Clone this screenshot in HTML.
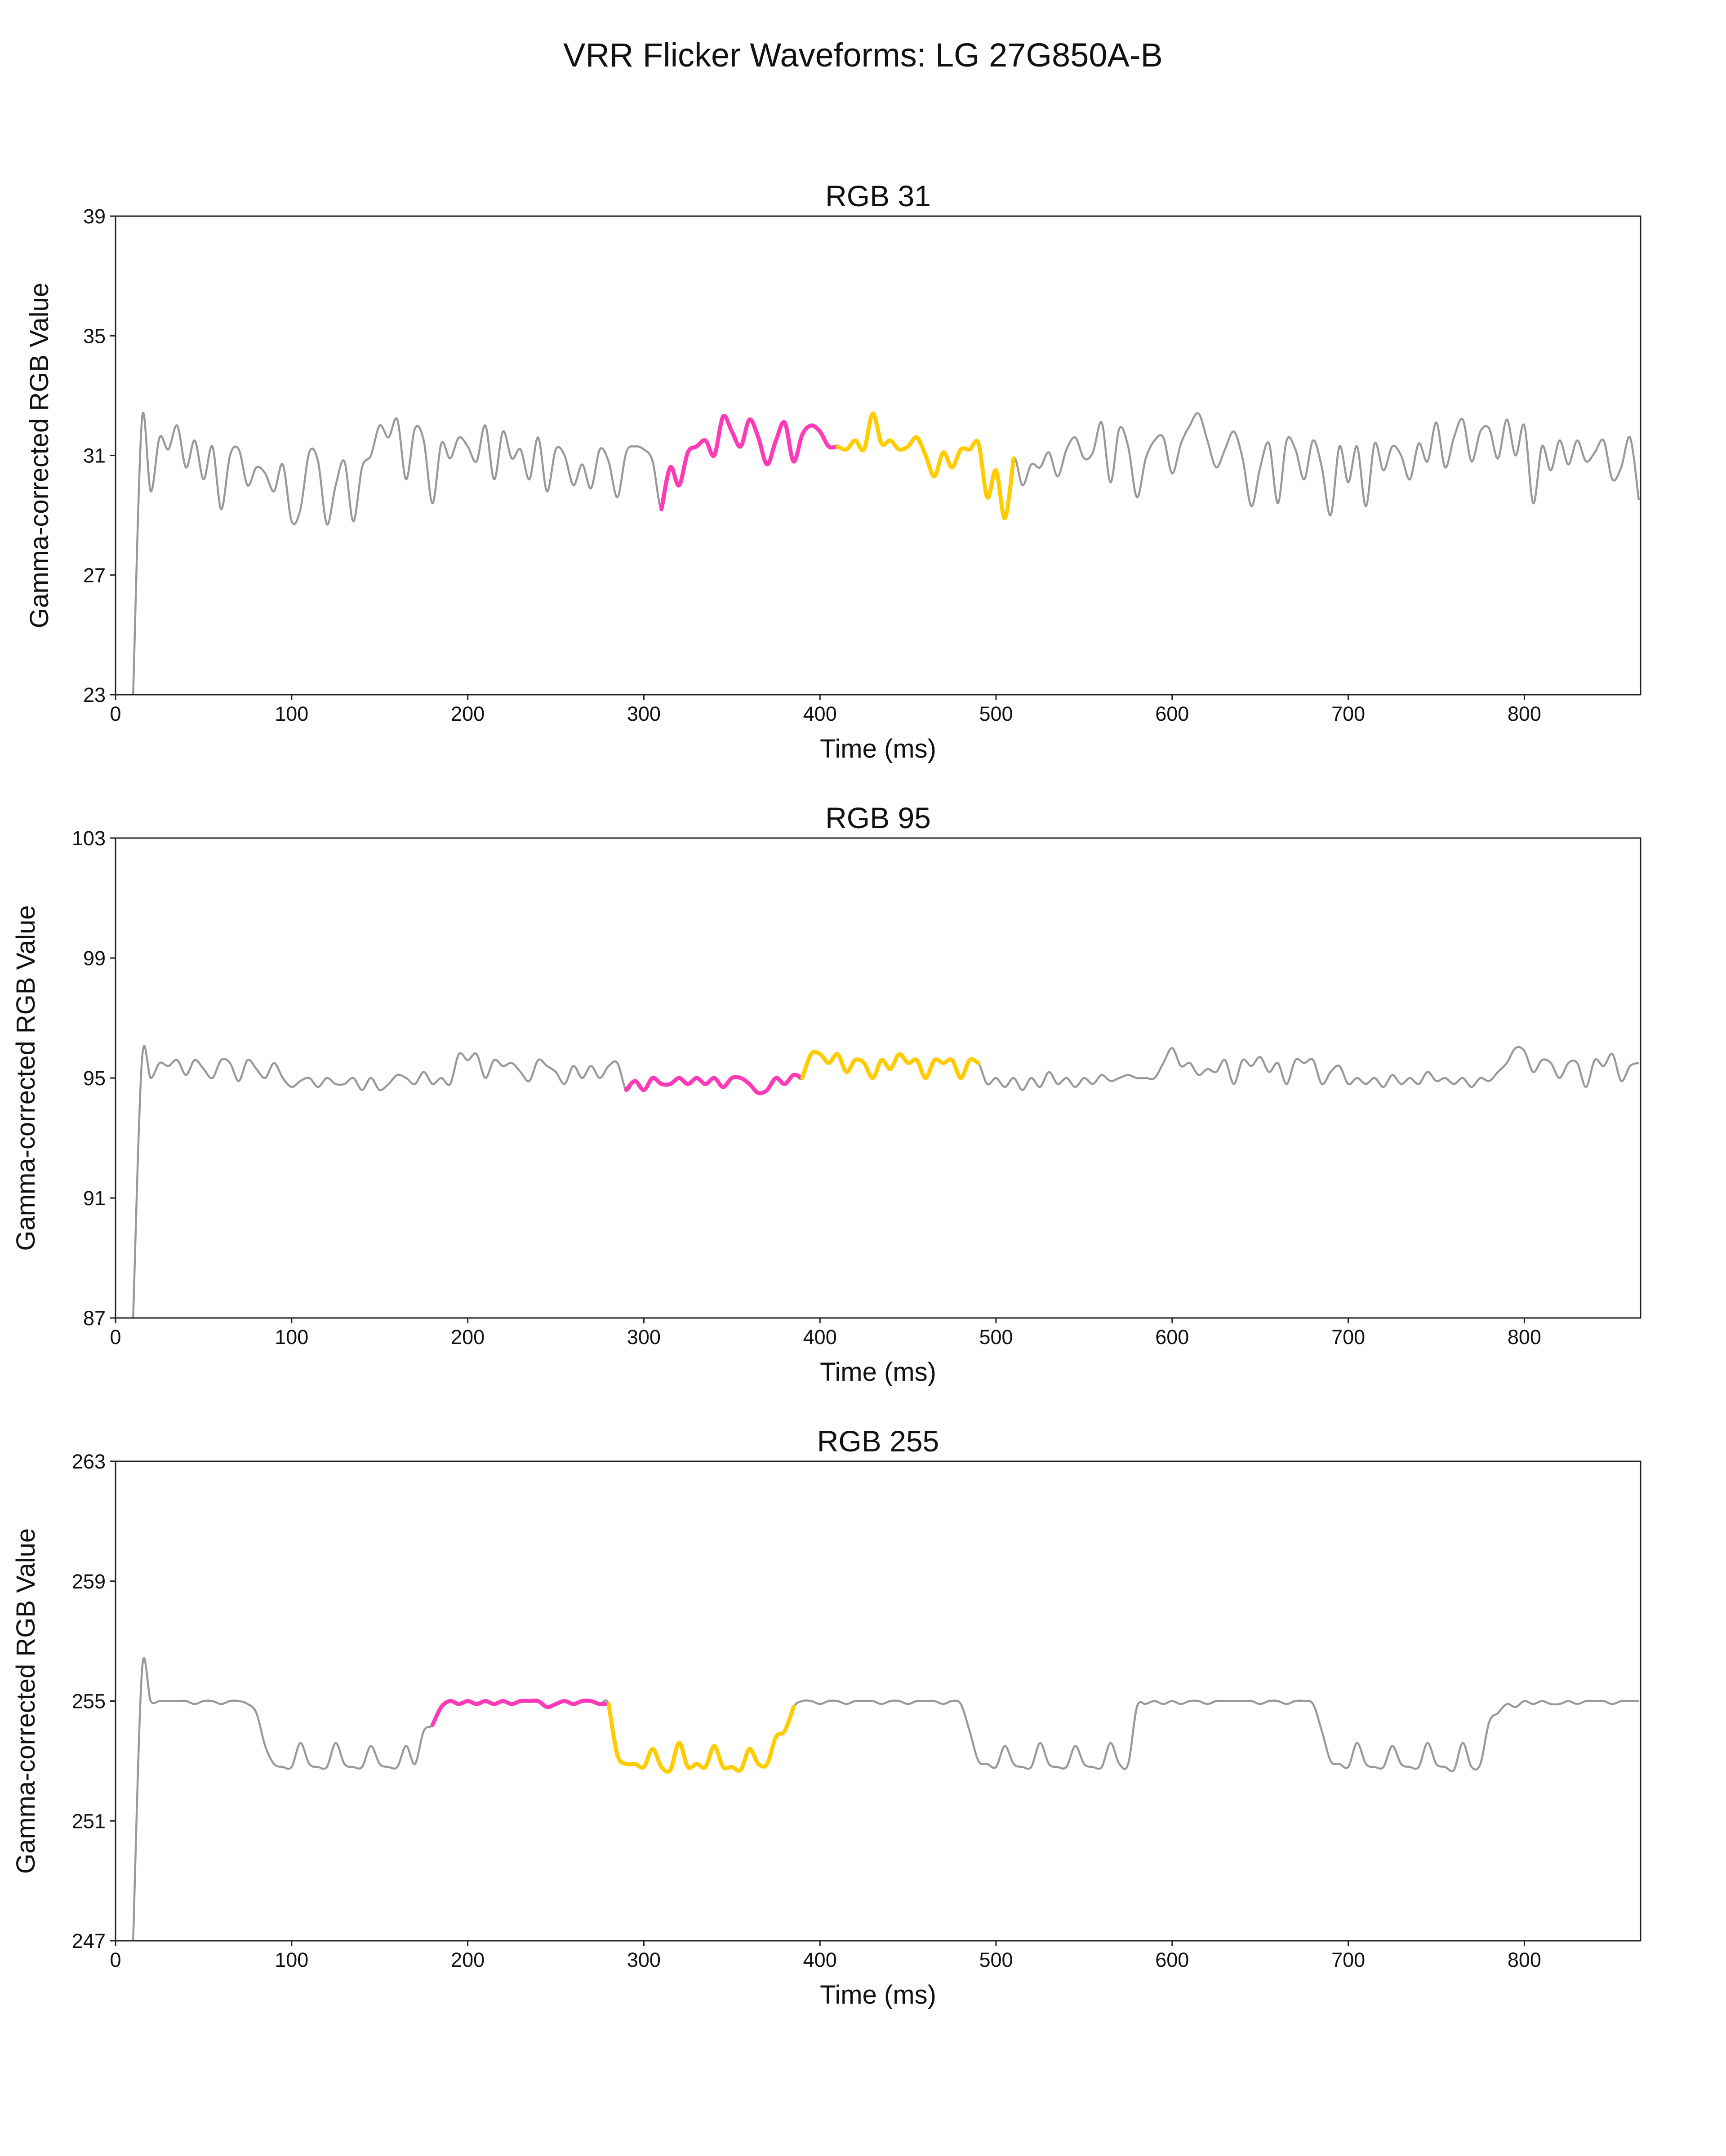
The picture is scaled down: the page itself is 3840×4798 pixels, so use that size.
<!DOCTYPE html>
<html><head><meta charset="utf-8"><style>
html,body{margin:0;padding:0;background:#fff;}
svg{display:block;font-family:"Liberation Sans","DejaVu Sans",sans-serif;}
</style></head><body>
<svg id="chart" width="3840" height="4798" viewBox="0 0 3840 4798" xmlns="http://www.w3.org/2000/svg">
<rect width="3840" height="4798" fill="#fff"/>
<text x="1920" y="148" font-size="74" text-anchor="middle" fill="#111">VRR Flicker Waveforms: LG 27G850A-B</text>
</svg>
<script>
const xTicks = [0,100,200,300,400,500,600,700,800];
const t0 = 10, tStep = 5;
const p1Values = [23,32.2,29.8,31.6,31.2,32.0,30.6,31.5,30.2,31.3,29.2,31.0,31.2,30.0,30.6,30.4,29.8,30.7,28.8,29.2,31.1,30.8,28.7,30.0,30.8,28.8,30.6,31.0,32.0,31.6,32.2,30.2,31.9,31.5,29.4,31.4,30.9,31.6,31.3,30.8,32.0,30.2,31.8,30.9,31.2,30.2,31.6,29.8,31.2,31.0,30.0,30.7,29.9,31.2,30.8,29.6,31.1,31.3,31.2,30.8,29.2,30.6,30.0,31.1,31.3,31.5,31.0,32.3,31.8,31.3,32.2,31.6,30.7,31.5,32.1,30.8,31.7,32.0,31.8,31.3,31.3,31.2,31.5,31.2,32.4,31.4,31.5,31.2,31.3,31.6,31.0,30.3,31.1,30.6,31.2,31.2,31.4,29.6,30.5,28.9,30.9,30.0,30.7,30.6,31.1,30.3,31.2,31.6,30.9,31.1,32.1,30.1,31.9,31.3,29.6,30.9,31.5,31.6,30.4,31.4,32.0,32.4,31.5,30.6,31.2,31.8,30.9,29.3,30.6,31.4,29.4,31.5,31.2,30.2,31.5,30.6,29.0,31.3,30.1,31.3,29.3,31.4,30.5,31.3,31.0,30.2,31.4,30.8,32.1,30.6,31.6,32.2,30.8,31.8,31.9,30.9,32.2,31.0,32.0,29.4,31.3,30.5,31.5,30.7,31.5,30.8,31.1,31.5,30.2,30.6,31.6,29.5];
const p2Values = [87,95.6,95.0,95.5,95.4,95.6,95.1,95.6,95.3,95.0,95.6,95.5,94.9,95.6,95.3,95.0,95.5,95.0,94.7,94.9,95.0,94.7,95.0,94.8,94.8,95.0,94.6,95.0,94.6,94.8,95.1,95.0,94.8,95.2,94.8,95.0,94.8,95.8,95.6,95.8,95.0,95.6,95.4,95.5,95.2,94.9,95.6,95.4,95.2,94.8,95.4,95.0,95.4,95.0,95.4,95.5,94.6,94.9,94.6,95.0,94.8,94.8,95.0,94.8,95.0,94.8,95.0,94.7,95.0,95.0,94.8,94.5,94.6,95.0,94.8,95.1,95.0,95.8,95.8,95.5,95.8,95.2,95.6,95.5,95.0,95.6,95.3,95.8,95.5,95.6,95.0,95.6,95.5,95.6,95.0,95.6,95.5,94.8,95.0,94.7,95.0,94.6,95.0,94.7,95.2,94.8,95.0,94.7,95.0,94.8,95.1,94.9,95.0,95.1,95.0,95.0,95.0,95.5,96.0,95.4,95.5,95.1,95.3,95.2,95.6,94.8,95.6,95.4,95.7,95.2,95.5,94.8,95.6,95.5,95.6,94.8,95.2,95.4,94.8,95.0,94.8,95.0,94.7,95.1,94.8,95.0,94.8,95.2,94.9,95.0,94.8,95.0,94.7,95.0,94.9,95.2,95.5,96.0,95.9,95.2,95.6,95.5,95.0,95.5,95.5,94.7,95.6,95.4,95.8,94.9,95.4,95.5];
const p3Values = [247,256.0,255.0,255.0,255.0,255.0,255.0,254.9,255.0,255.0,254.9,255.0,255.0,254.9,254.6,253.5,252.9,252.8,252.8,253.6,252.9,252.8,252.8,253.6,252.9,252.8,252.8,253.5,252.9,252.8,252.8,253.5,252.9,254.0,254.2,254.8,255.0,254.9,255.0,254.9,255.0,254.9,255.0,254.9,255.0,255.0,255.0,254.8,254.9,255.0,254.9,255.0,255.0,254.9,254.9,253.2,252.9,252.9,252.8,253.4,252.8,252.7,253.6,252.8,252.9,252.8,253.5,252.8,252.8,252.7,253.4,252.9,252.9,253.8,254.0,254.8,255.0,255.0,254.9,255.0,255.0,254.9,255.0,255.0,255.0,254.9,255.0,255.0,254.9,255.0,255.0,255.0,254.9,255.0,254.9,254.0,253.0,252.9,252.8,253.5,252.9,252.8,252.8,253.6,252.9,252.8,252.8,253.5,252.9,252.8,252.8,253.6,252.9,252.9,254.8,254.9,255.0,254.9,255.0,254.9,255.0,255.0,254.9,255.0,255.0,255.0,255.0,255.0,254.9,255.0,255.0,254.9,255.0,255.0,254.9,254.0,253.0,252.9,252.8,253.6,252.9,252.8,252.8,253.5,252.9,252.8,252.8,253.6,252.9,252.8,252.7,253.6,252.8,252.9,254.3,254.6,254.9,254.8,255.0,254.9,255.0,254.9,254.9,255.0,254.9,255.0,255.0,255.0,254.9,255.0,255.0,255.0];
const p1Ticks = [23,27,31,35,39];
const p2Ticks = [87,91,95,99,103];
const p3Ticks = [247,251,255,259,263];
const p1Ranges = [[312,410],[410,508]];
const p2Ranges = [[292,390],[390,492]];
const p3Ranges = [[182,282],[282,383]];

const svg = document.getElementById('chart');
const NS = 'http://www.w3.org/2000/svg';
const L = 257, R = 3650, XMAX = 866;
function mk(tag, attrs){const e=document.createElementNS(NS,tag);for(const k in attrs)e.setAttribute(k,attrs[k]);svg.appendChild(e);return e;}
function smooth(p){
  if(p.length<2) return '';
  let d='M'+p[0][0].toFixed(1)+','+p[0][1].toFixed(1);
  for(let i=0;i<p.length-1;i++){
    const a=p[i-1]||p[i], b=p[i], c=p[i+1], e=p[i+2]||c;
    const c1x=b[0]+(c[0]-a[0])/6, c1y=b[1]+(c[1]-a[1])/6;
    const c2x=c[0]-(e[0]-b[0])/6, c2y=c[1]-(e[1]-b[1])/6;
    d+=' C'+c1x.toFixed(1)+','+c1y.toFixed(1)+' '+c2x.toFixed(1)+','+c2y.toFixed(1)+' '+c[0].toFixed(1)+','+c[1].toFixed(1);
  }
  return d;
}

function panel(id, title, top, bottom, ticks, vals, ranges, labelX){
  const ymin=ticks[0], ymax=ticks[ticks.length-1];
  const xs=t=>L+(t/XMAX)*(R-L);
  const ys=v=>bottom-(v-ymin)/(ymax-ymin)*(bottom-top);
  const times=vals.map((v,i)=>t0+i*tStep);
  const t=mk('text',{x:(L+R)/2,y:top-22,'font-size':66,'text-anchor':'middle',fill:'#111'});
  t.textContent=title;
  
  
  xTicks.forEach(v=>{
    const tk=mk('line',{x1:xs(v),x2:xs(v),y1:bottom,y2:bottom+12,stroke:'#222','stroke-width':3});
    
    
    const tl=mk('text',{x:xs(v),y:bottom+58,'font-size':45,'text-anchor':'middle',fill:'#111'});
    tl.textContent=v;
    
    
  });
  ticks.forEach(v=>{
    const tk=mk('line',{x1:L-12,x2:L,y1:ys(v),y2:ys(v),stroke:'#222','stroke-width':3});
    
    
    const tl=mk('text',{x:L-22,y:ys(v)+16,'font-size':45,'text-anchor':'end',fill:'#111'});
    tl.textContent=v;
    
    
  });
  const xl=mk('text',{x:(L+R)/2,y:bottom+140,'font-size':58,'text-anchor':'middle',fill:'#111'});
  xl.textContent='Time (ms)';
  
  
  const cy=(top+bottom)/2;
  const yl=mk('text',{x:labelX,y:cy,'font-size':58,'text-anchor':'middle',fill:'#111',transform:`rotate(-90 ${labelX} ${cy})`});
  yl.textContent='Gamma-corrected RGB Value';
  
  
  const clipId=id+'-clip';
  const cp=mk('clipPath',{id:clipId});
  const cr=document.createElementNS(NS,'rect');
  cr.setAttribute('x',L);cr.setAttribute('y',top);cr.setAttribute('width',R-L);cr.setAttribute('height',bottom-top);
  cp.appendChild(cr);
  const pts=times.map((tt,i)=>[xs(tt),ys(vals[i])]);
  const g=mk('path',{d:smooth(pts),fill:'none',stroke:'#999','stroke-width':4.5,'stroke-linejoin':'round','clip-path':`url(#${clipId})`});
  
  
  const cols=['#ff3ab8','#ffcc00'];
  ranges.forEach((rg,k)=>{
    const p=[];
    times.forEach((tt,i)=>{if(tt>=rg[0]-2.5&&tt<=rg[1]+2.5)p.push([xs(tt),ys(vals[i])]);});
    const s=mk('path',{d:smooth(p),fill:'none',stroke:cols[k],'stroke-width':9,'stroke-linejoin':'round','stroke-linecap':'round'});
    
    
  });
  const fr=mk('rect',{x:L,y:top,width:R-L,height:bottom-top,fill:'none',stroke:'#222','stroke-width':3});
  
  
}
panel('rgb31-panel','RGB 31',481,1546,p1Ticks,p1Values,p1Ranges,107);
panel('rgb95-panel','RGB 95',1865,2933,p2Ticks,p2Values,p2Ranges,77);
panel('rgb255-panel','RGB 255',3252,4319,p3Ticks,p3Values,p3Ranges,77);
</script>
</body></html>
